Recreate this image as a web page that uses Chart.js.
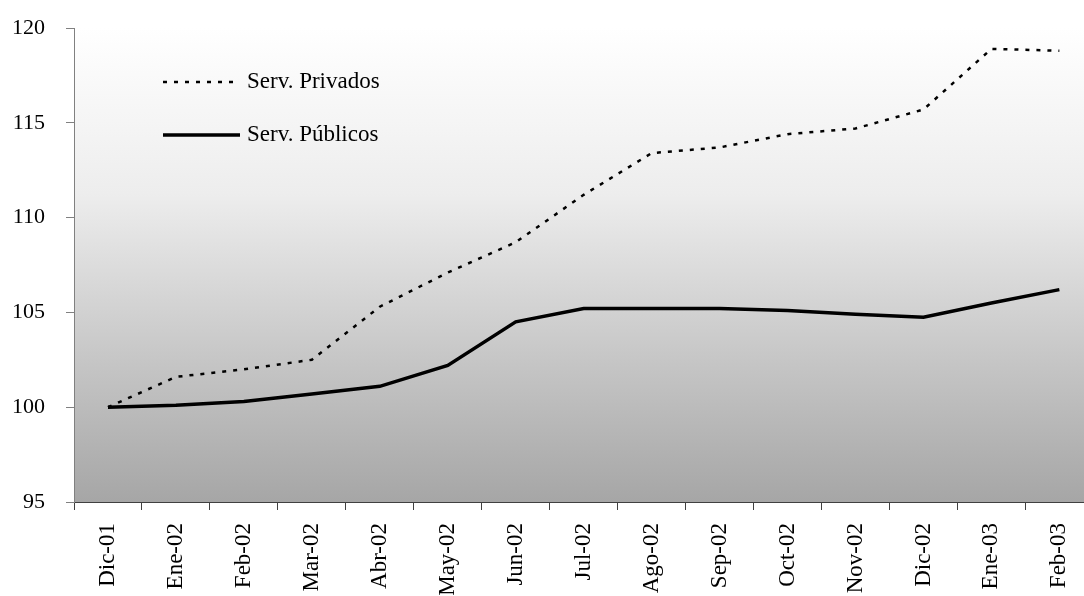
<!DOCTYPE html>
<html>
<head>
<meta charset="utf-8">
<script src="https://cdn.jsdelivr.net/npm/chart.js@4/dist/chart.umd.min.js"></script>
<style>
  html, body { margin: 0; padding: 0; background: #fff; overflow: hidden; }
  #wrap { width: 1100px; height: 596px; }
</style>
</head>
<body>
<div id="wrap"><canvas id="servChart" width="1100" height="596"></canvas></div>
<script>
const months = ['Dic-01', 'Ene-02', 'Feb-02', 'Mar-02', 'Abr-02', 'May-02', 'Jun-02', 'Jul-02',
  'Ago-02', 'Sep-02', 'Oct-02', 'Nov-02', 'Dic-02', 'Ene-03', 'Feb-03'];
const privados = [100, 101.6, 102.0, 102.5, 105.3, 107.1, 108.7, 111.2, 113.4, 113.7, 114.4, 114.7, 115.7, 118.9, 118.8];
const publicos = [100, 100.1, 100.3, 100.7, 101.1, 102.2, 104.5, 105.2, 105.2, 105.2, 105.1, 104.9, 104.75, 105.5, 106.2];
const yTicks = [95, 100, 105, 110, 115, 120];

const FONT = "'Liberation Serif', 'Times New Roman', serif";

// grey gradient behind the plot area
const plotBackground = {
  id: 'plotBackground',
  beforeDraw(chart) {
    const { ctx, chartArea: a } = chart;
    const g = ctx.createLinearGradient(0, a.top, 0, a.bottom);
    g.addColorStop(0, '#ffffff');
    g.addColorStop(0.35, '#ededed');
    g.addColorStop(0.7, '#c6c6c6');
    g.addColorStop(1, '#a6a6a6');
    ctx.save();
    ctx.fillStyle = g;
    ctx.fillRect(a.left, a.top, a.right - a.left, a.bottom - a.top);
    ctx.restore();
  }
};

// legend drawn inside the plot, top-left
const insideLegend = {
  id: 'insideLegend',
  afterDraw(chart) {
    const { ctx } = chart;
    const x0 = 163, x1 = 240;
    const rows = [82, 135];
    ctx.save();
    chart.data.datasets.forEach((ds, i) => {
      const y = rows[i];
      ctx.beginPath();
      ctx.strokeStyle = ds.borderColor;
      ctx.lineWidth = ds.borderWidth;
      ctx.setLineDash(ds.borderDash || []);
      ctx.moveTo(x0, y);
      ctx.lineTo(x1, y);
      ctx.stroke();
      ctx.setLineDash([]);
      ctx.fillStyle = '#000';
      ctx.font = '23px ' + FONT;
      ctx.textBaseline = 'middle';
      ctx.fillText(ds.label, x1 + 7, y);
    });
    ctx.restore();
  }
};

new Chart(document.getElementById('servChart'), {
  type: 'line',
  data: {
    labels: months,
    datasets: [{
      label: 'Serv. Privados',
      data: privados,
      borderColor: '#000',
      borderWidth: 2.5,
      borderDash: [4, 7],
      pointRadius: 0,
      tension: 0
    }, {
      label: 'Serv. Públicos',
      data: publicos,
      borderColor: '#000',
      borderWidth: 3.5,
      pointRadius: 0,
      tension: 0
    }]
  },
  options: {
    responsive: false,
    animation: false,
    layout: { padding: { top: 28, right: 1, left: 0, bottom: 0 } },
    plugins: {
      legend: { display: false },
      tooltip: { enabled: false }
    },
    scales: {
      x: {
        type: 'category',
        offset: true,
        grid: { offset: true, drawOnChartArea: false, drawTicks: true, tickLength: 8, color: '#404040' },
        border: { display: true, color: '#404040', width: 1 },
        ticks: {
          color: '#000',
          font: { family: FONT, size: 23 },
          maxRotation: 90,
          minRotation: 90,
          padding: 13,
          autoSkip: false
        },
        afterFit(scale) { scale.height = 94; }
      },
      y: {
        min: 95,
        max: 120,
        afterBuildTicks(scale) { scale.ticks = yTicks.map(v => ({ value: v })); },
        grid: { drawOnChartArea: false, drawTicks: true, tickLength: 8, color: '#808080' },
        border: { display: true, color: '#808080', width: 1 },
        ticks: {
          color: '#000',
          font: { family: FONT, size: 22 },
          padding: 21
        },
        afterFit(scale) {
          scale.width = 74;
          scale.paddingTop = 0;
          scale.paddingBottom = 0;
        }
      }
    }
  },
  plugins: [plotBackground, insideLegend]
});
</script>
</body>
</html>
